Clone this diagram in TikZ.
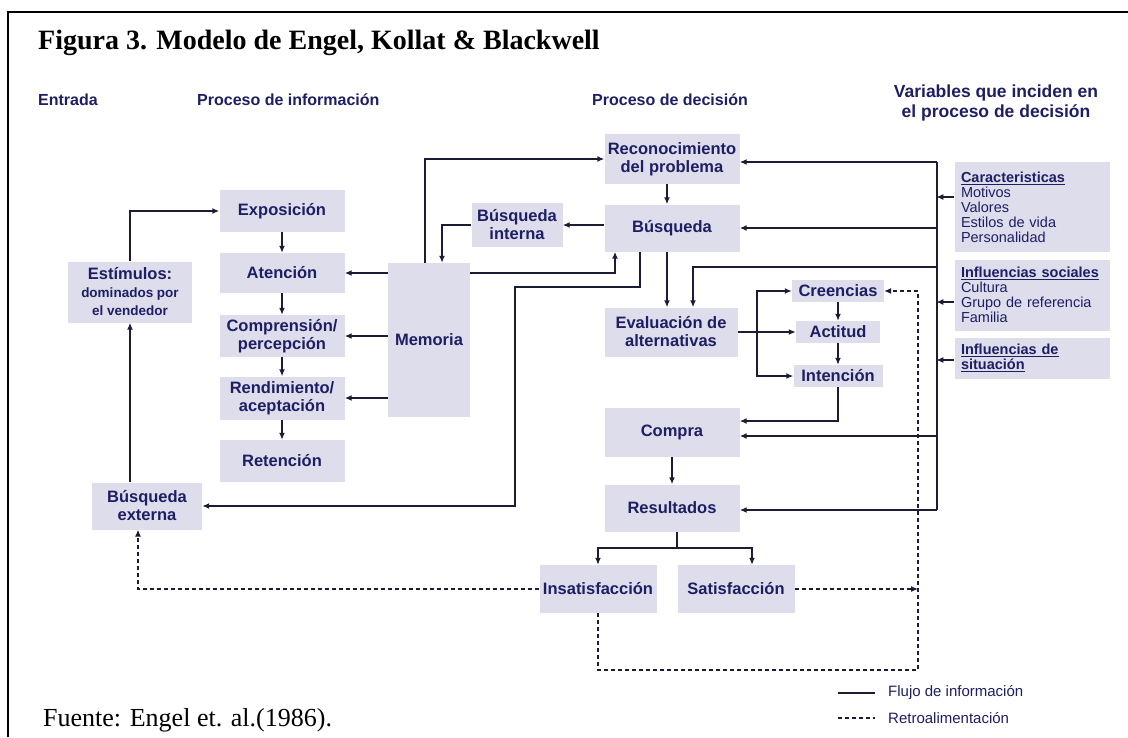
\documentclass[tikz,border=0pt]{standalone}
\usepackage{fontspec}
\setmainfont{Liberation Serif}
\setsansfont{Liberation Sans}
\usetikzlibrary{arrows.meta}

\begin{document}
\begin{tikzpicture}
% Engel, Kollat & Blackwell model on the pixel grid of the source figure
\def\ekbUnit{1pt}
\providecommand{\ekbLineWidth}{1.4pt}
\providecommand{\ekbFrameWidth}{2.4pt}
\definecolor{ekbBox}{RGB}{221,221,236}
\definecolor{ekbInk}{RGB}{30,30,100}
\definecolor{ekbLine}{RGB}{28,28,52}
\useasboundingbox (0,0) rectangle (1128pt,-737pt);
\begin{scope}[x=\ekbUnit, y=-\ekbUnit, line join=miter,
  box/.style={fill=ekbBox, text=ekbInk, font=\sffamily\bfseries\fontsize{16.5}{18}\selectfont, align=center, inner sep=0pt},
  varbox/.style={fill=ekbBox, text=ekbInk, font=\sffamily\fontsize{14.5}{15}\selectfont, align=left, inner sep=0pt, text width=142pt, minimum width=155pt},
  head/.style={text=ekbInk, font=\sffamily\bfseries\fontsize{16}{20}\selectfont, inner sep=0pt},
  legend/.style={text=ekbInk, font=\sffamily\fontsize{15}{16}\selectfont, inner sep=0pt, anchor=west},
  link/.style={draw=ekbLine, line width=\ekbLineWidth},
  flow/.style={link, -{Latex[length=7pt,width=6pt]}},
  fb/.style={draw=ekbLine, line width=1.1pt, dash pattern=on 4pt off 3pt},
  fbflow/.style={fb, -{Latex[length=7pt,width=6pt]}}]
  % Page frame, title and source
  \draw[line width=\ekbFrameWidth] (8,737) -- (8,12) -- (1128,12);
  \node[anchor=west, inner sep=0pt, font=\rmfamily\bfseries\fontsize{28}{32}\selectfont] (title) at (38,43) {Figura 3. Modelo de Engel, Kollat \& Blackwell};
  \node[anchor=west, inner sep=0pt, font=\rmfamily\fontsize{26}{30}\selectfont] (source) at (43,720) {Fuente: Engel et. al.(1986).};
  % Column headers
  \node[head, anchor=west] (hIn) at (38,100) {Entrada};
  \node[head, anchor=west] (hInfo) at (197,100) {Proceso de información};
  \node[head, anchor=west] (hDec) at (592,100) {Proceso de decisión};
  \node[head, align=center, font=\sffamily\bfseries\fontsize{17.5}{20}\selectfont] (hVar) at (996,103) {Variables que inciden en\\el proceso de decisión};
  % Input
  \node[box, minimum width=124pt, minimum height=61pt] (estim) at (130,292) {Estímulos:\\{\fontsize{13.5}{15}\selectfont dominados por}\\{\fontsize{13.5}{15}\selectfont el vendedor}};
  \node[box, minimum width=110pt, minimum height=47pt] (bext) at (147,506) {Búsqueda\\externa};
  % Information processing
  \node[box, minimum width=125pt, minimum height=42pt] (expo) at (282,211) {Exposición};
  \node[box, minimum width=125pt, minimum height=40pt] (aten) at (282,273) {Atención};
  \node[box, minimum width=125pt, minimum height=42pt] (compr) at (282,336) {Comprensión/\\percepción};
  \node[box, minimum width=125pt, minimum height=43pt] (rend) at (282,398) {Rendimiento/\\aceptación};
  \node[box, minimum width=125pt, minimum height=42pt] (reten) at (282,461) {Retención};
  \node[box, minimum width=82pt, minimum height=154pt] (mem) at (429,340) {Memoria};
  \node[box, minimum width=91pt, minimum height=44pt] (interna) at (517,225) {Búsqueda\\interna};
  % Decision process
  \node[box, minimum width=135pt, minimum height=50pt] (recon) at (672,159) {Reconocimiento\\del problema};
  \node[box, minimum width=135pt, minimum height=47pt] (busq) at (672,228) {Búsqueda};
  \node[box, minimum width=133pt, minimum height=49pt] (eval) at (671,332) {Evaluación de\\alternativas};
  \node[box, minimum width=92pt, minimum height=22pt] (cre) at (838,291) {Creencias};
  \node[box, minimum width=84pt, minimum height=22pt] (act) at (838,332) {Actitud};
  \node[box, minimum width=89pt, minimum height=22pt] (inten) at (838,376) {Intención};
  \node[box, minimum width=135pt, minimum height=49pt] (compra) at (672,432) {Compra};
  \node[box, minimum width=135pt, minimum height=47pt] (resul) at (672,508) {Resultados};
  \node[box, minimum width=117pt, minimum height=48pt] (insat) at (598,589) {Insatisfacción};
  \node[box, minimum width=117pt, minimum height=48pt] (sat) at (736,589) {Satisfacción};
  % Variables
  \node[varbox, minimum height=90pt] (carac) at (1032,207) {\textbf{\underline{Caracteristicas}}\\Motivos\\Valores\\Estilos de vida\\Personalidad};
  \node[varbox, minimum height=71pt] (social) at (1032,295) {\textbf{\underline{Influencias sociales}}\\Cultura\\Grupo de referencia\\Familia};
  \node[varbox, minimum height=41pt] (situac) at (1032,358) {\textbf{\underline{Influencias de}}\\\textbf{\underline{situación}}};
  % Input links
  \draw[flow] (estim.north) |- (expo.west);
  \draw[flow] (estim.south |- bext.north) -- (estim.south);
  % Information chain
  \draw[flow] (expo) -- (aten);
  \draw[flow] (aten) -- (compr);
  \draw[flow] (compr) -- (rend);
  \draw[flow] (rend) -- (reten);
  \draw[flow] (mem.west |- aten.east) -- (aten.east);
  \draw[flow] (mem.west |- compr.east) -- (compr.east);
  \draw[flow] (mem.west |- rend.east) -- (rend.east);
  % Memory and search
  \coordinate (extBend) at (515,287);
  \draw[flow] ([xshift=-4pt]mem.north) |- (recon.west);
  \draw[flow] (busq.west |- interna.east) -- (interna.east);
  \draw[flow] (interna.west) -| ([xshift=13pt]mem.north);
  \draw[flow] ([yshift=-10pt]mem.north east) -| ([xshift=-57pt]busq.south);
  \draw[flow] ([xshift=-32pt]busq.south) |- (extBend) |- (bext.east);
  % Decision chain
  \coordinate (evalFork) at (757,332);
  \coordinate (cmpTop) at ([yshift=11pt]compra.east);
  \coordinate (resFork) at (677,548);
  \draw[flow] ([xshift=-5pt]recon.south) -- ([xshift=-5pt]busq.north);
  \draw[flow] ([xshift=-5pt]busq.south) -- ([xshift=-4pt]eval.north);
  \draw[flow] (eval.east) -- (act.west);
  \draw[flow] (evalFork) |- (cre.west);
  \draw[flow] (evalFork) |- (inten.west);
  \draw[flow] (cre) -- (act);
  \draw[flow] (act) -- (inten);
  \draw[flow] (inten.south) |- (cmpTop);
  \draw[flow] (compra) -- (resul);
  \draw[link] (resFork |- resul.south) -- (resFork);
  \draw[flow] (resFork) -| (insat.north);
  \draw[flow] (resFork) -| ([xshift=16pt]sat.north);
  % Variables bus
  \coordinate (busTop) at (937,162);
  \coordinate (busBot) at (937,510);
  \coordinate (evalIn) at (693,267);
  \coordinate (cmpIn) at ([yshift=-4pt]compra.east);
  \draw[link] (busTop) -- (busBot);
  \draw[flow] (busTop) -- (busTop -| recon.east);
  \draw[flow] (busTop |- busq.east) -- (busq.east);
  \draw[flow] (busTop |- evalIn) -- (evalIn) -- (evalIn |- eval.north);
  \draw[flow] (busTop |- cmpIn) -- (cmpIn);
  \draw[flow] (busBot) -- (busBot -| resul.east);
  \draw[flow] ([yshift=10pt]carac.west) -- ++(-18,0);
  \draw[flow] ([yshift=-7pt]social.west) -- ++(-18,0);
  \draw[flow] ([yshift=-2pt]situac.west) -- ++(-18,0);
  % Feedback
  \coordinate (fbCorner) at (918,670);
  \draw[fbflow] (insat.south) |- (fbCorner) |- (cre.east);
  \draw[fbflow] (sat.east) -- (sat.east -| fbCorner);
  \draw[fbflow] (insat.west) -| ([xshift=-9pt]bext.south);
  % Legend
  \node[legend] (lgFlowTxt) at (888,693) {Flujo de información};
  \node[legend] (lgFbTxt) at (888,718) {Retroalimentación};
  \coordinate (lgFlow) at (838,693);
  \coordinate (lgFb) at (838,718);
  \draw[link] (lgFlow) -- ([xshift=-13pt]lgFlowTxt.west);
  \draw[fb] (lgFb) -- ([xshift=-13pt]lgFbTxt.west);
\end{scope}
\end{tikzpicture}
\end{document}
